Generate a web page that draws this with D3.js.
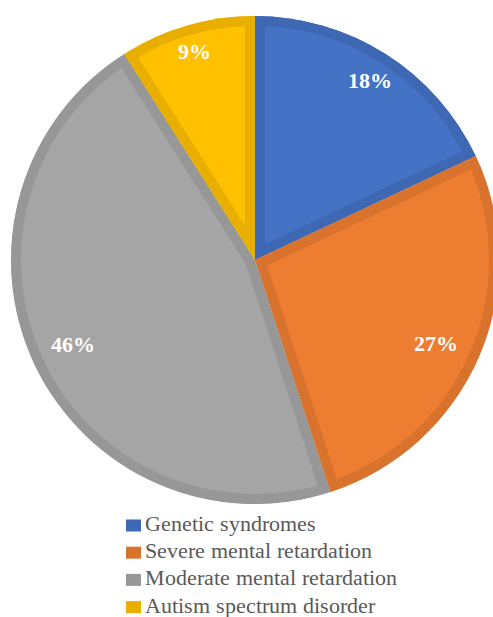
<!DOCTYPE html>
<html>
<head>
<meta charset="utf-8">
<script src="https://cdn.jsdelivr.net/npm/d3@7"></script>
<style>
  @font-face { font-family: "ChartSerif"; font-weight: normal; src: local("Liberation Serif"), local("LiberationSerif"), local("Times New Roman"); }
  @font-face { font-family: "ChartSerif"; font-weight: bold; src: local("Liberation Serif Bold"), local("LiberationSerif-Bold"), local("Times New Roman Bold"); }
  html, body { margin: 0; padding: 0; background: #fff; }
  svg { display: block; }
</style>
</head>
<body>
<svg id="chart" width="493" height="617"></svg>
<script>
// Share of participants by diagnostic group
const categories = ["Genetic syndromes", "Severe mental retardation", "Moderate mental retardation", "Autism spectrum disorder"];
const values = [18, 27, 46, 9];
const fillColors = ["#4472C4", "#ED7D31", "#A5A5A5", "#FFC000"];
const edgeColors = ["#3E68B4", "#D9722C", "#979797", "#E8AF00"];
const labelPositions = [[370, 81], [436, 344], [73, 345], [194, 52]];

const textFont = '"ChartSerif", "Times New Roman", "Liberation Serif", serif';
const svg = d3.select("#chart");
const cx = 255, cy = 260, radius = 244;

const pie = d3.pie().sort(null).value(d => d)(values);
const arc = d3.arc().innerRadius(0).outerRadius(radius);

const defs = svg.append("defs");
const g = svg.append("g").attr("transform", `translate(${cx},${cy})`);

pie.forEach((d, i) => {
  // each slice is clipped to itself so its darker edge sits inside the wedge
  defs.append("clipPath").attr("id", "clip" + i)
    .append("path").attr("d", arc(d));
  g.append("path")
    .attr("d", arc(d))
    .attr("fill", fillColors[i])
    .attr("stroke", edgeColors[i])
    .attr("stroke-width", 20)
    .attr("stroke-linejoin", "miter")
    .attr("clip-path", `url(#clip${i})`);
});

// percentage labels
svg.append("g").selectAll("text")
  .data(pie)
  .join("text")
  .attr("x", (d, i) => labelPositions[i][0])
  .attr("y", (d, i) => labelPositions[i][1] + 7)
  .attr("text-anchor", "middle")
  .style("font-family", textFont)
  .style("font-weight", "bold")
  .style("font-size", "22px")
  .attr("fill", "#fff")
  .text(d => d.data + "%");

// legend
const legend = svg.append("g").attr("transform", "translate(126,519)");
const rowH = 27.2;
const rows = legend.selectAll("g")
  .data(categories)
  .join("g")
  .attr("transform", (d, i) => `translate(0,${i * rowH})`);
rows.append("rect")
  .attr("y", 0.5)
  .attr("width", 15).attr("height", 12)
  .attr("fill", (d, i) => edgeColors[i]);
rows.append("text")
  .attr("x", 19)
  .attr("y", 12)
  .style("font-family", textFont)
  .style("font-size", "22px")
  .attr("fill", "#595959")
  .text(d => d);
</script>
</body>
</html>
